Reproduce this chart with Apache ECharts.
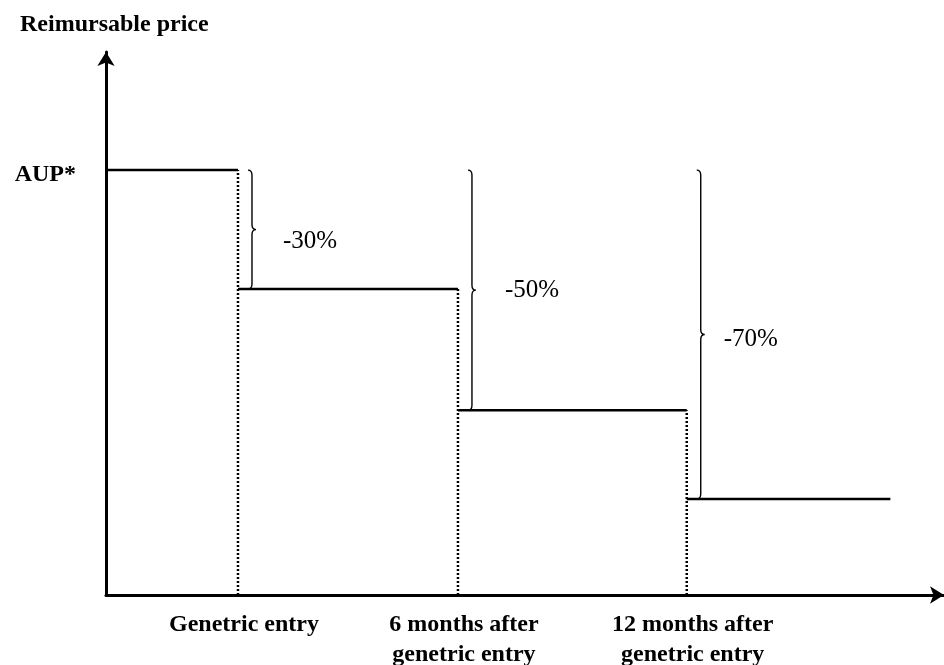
<!DOCTYPE html>
<html><head><meta charset="utf-8">
<script src="https://cdn.jsdelivr.net/npm/echarts@6/dist/echarts.min.js"></script>
<style>html,body{margin:0;padding:0;background:#fff}#c{width:944px;height:665px}</style>
</head><body><div id="c"></div>
<script>
// ---- data ----
const stageLabels = ['Genetric entry', '6 months after\ngenetric entry', '12 months after\ngenetric entry'];
const stageX = [1.575, 4.2, 6.93];      // time position of each price cut
const periodEndX = 9.36;                // end of the last drawn period
const priceLevels = [100, 72, 43.5, 22.6];  // AUP* then level after each cut
const cutLabels = ['-30%', '-50%', '-70%'];
const yTickValues = [100];
const yTickLabels = ['AUP*'];
const yAxisTitle = 'Reimursable price';

// ---- layout / style (not data) ----
const FONT = '"Liberation Serif", "Times New Roman", serif';
const braceOffsetPx = 14;
const labelDx = [31, 33, 23];
const labelDy = [12, 0, 5];

const chart = echarts.init(document.getElementById('c'), null, {renderer: 'canvas'});

const starts = [0].concat(stageX);
const ends = stageX.concat([periodEndX]);
const series = [];
priceLevels.forEach((lv, i) => {
  series.push({
    type: 'line', data: [[starts[i], lv], [ends[i], lv]], symbol: 'none', silent: true,
    lineStyle: {color: '#000', width: 2.5}, z: 3
  });
});
stageX.forEach((x, i) => {
  series.push({
    type: 'line', data: [[x, 0], [x, priceLevels[i]]], symbol: 'none', silent: true,
    lineStyle: {color: '#000', width: 2.5, type: [2, 2]}, z: 2
  });
});
series.push({
  type: 'custom', silent: true, clip: false,
  data: stageX.map((x, i) => [x, priceLevels[0], priceLevels[i + 1], i]),
  renderItem: function (params, api) {
    const i = api.value(3);
    const top = api.coord([api.value(0), api.value(1)]);
    const bot = api.coord([api.value(0), api.value(2)]);
    const x = top[0] + braceOffsetPx;
    const y0 = top[1], y1 = bot[1], ym = (y0 + y1) / 2;
    const c = 5, w = 4;
    const p = 'M' + (x - w) + ',' + y0 + ' Q' + x + ',' + y0 + ' ' + x + ',' + (y0 + c) +
      ' L' + x + ',' + (ym - c) + ' Q' + x + ',' + ym + ' ' + (x + w) + ',' + ym +
      ' Q' + x + ',' + ym + ' ' + x + ',' + (ym + c) +
      ' L' + x + ',' + (y1 - c) + ' Q' + x + ',' + y1 + ' ' + (x - w) + ',' + y1;
    return {
      type: 'group',
      children: [
        {type: 'path', shape: {pathData: p}, style: {stroke: '#000', fill: null, lineWidth: 1.4}},
        {type: 'text', x: x + labelDx[i], y: ym + labelDy[i],
          style: {text: cutLabels[i], font: '25px ' + FONT, fill: '#000', align: 'left', verticalAlign: 'middle'}}
      ]
    };
  }
});

function axisLineStyle() {
  return {show: true, onZero: false, symbol: ['none', 'arrow'], symbolSize: [13, 14],
    lineStyle: {color: '#000', width: 3}};
}

chart.setOption({
  animation: false,
  backgroundColor: '#fff',
  title: {text: yAxisTitle, left: 20, top: 13, padding: 0,
    textStyle: {fontFamily: FONT, fontSize: 24, fontWeight: 'bold', color: '#000'}},
  grid: {left: 106, right: 0, top: 52, bottom: 70, outerBoundsMode: 'none'},
  xAxis: {
    type: 'value', min: 0, max: 10,
    splitLine: {show: false}, axisTick: {show: false},
    axisLine: axisLineStyle(),
    axisLabel: {
      customValues: stageX,
      formatter: v => { const k = stageX.findIndex(s => Math.abs(s - v) < 1e-6); return k >= 0 ? stageLabels[k] : ''; },
      margin: 15, color: '#000', fontFamily: FONT, fontSize: 24, fontWeight: 'bold', lineHeight: 30,
      padding: [0, 0, 0, 12]
    }
  },
  yAxis: {
    type: 'value', min: 0, max: 127.8,
    splitLine: {show: false}, axisTick: {show: false},
    axisLine: axisLineStyle(),
    axisLabel: {
      customValues: yTickValues,
      formatter: v => { const k = yTickValues.indexOf(v); return k >= 0 ? yTickLabels[k] : ''; },
      margin: 30, color: '#000', fontFamily: FONT, fontSize: 24, fontWeight: 'bold',
      verticalAlign: 'top', lineHeight: 10
    }
  },
  series: series
});
</script>
</body></html>
